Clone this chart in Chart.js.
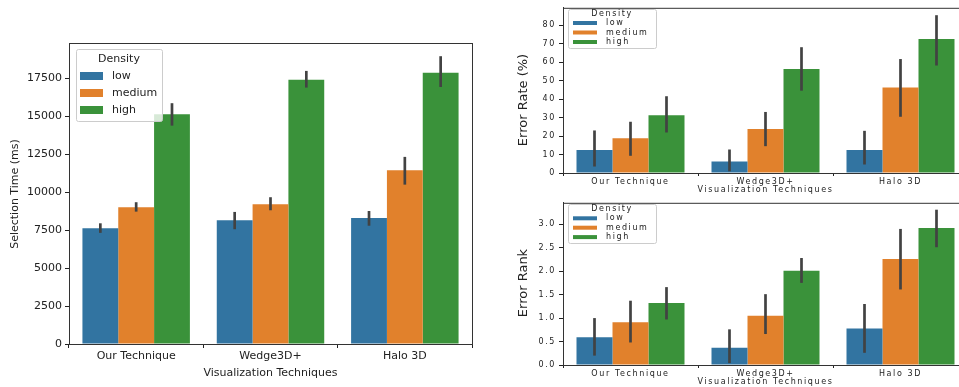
<!DOCTYPE html>
<html>
<head>
<meta charset="utf-8">
<script src="https://cdn.jsdelivr.net/npm/chart.js@4.4.0/dist/chart.umd.min.js"></script>
<style>
html, body { margin: 0; padding: 0; background: #fff; overflow: hidden; }
#wrap { position: relative; width: 959px; height: 387px; overflow: hidden; }
canvas { position: absolute; }
#timeChart { left: 0; top: 0; }
#rateChart { left: 500px; top: 0; }
#rankChart { left: 500px; top: 195px; }
</style>
</head>
<body>
<div id="wrap">
  <canvas id="timeChart" width="480" height="387"></canvas>
  <canvas id="rateChart" width="500" height="200"></canvas>
  <canvas id="rankChart" width="500" height="192"></canvas>
</div>
<script>
// categories and groups
const categories = ['Our Technique', 'Wedge3D+', 'Halo 3D'];
const densities = ['low', 'medium', 'high'];
const colors = ['#3274a1', '#e1812c', '#3a923a'];
const legendTitle = 'Density';
const xTitle = 'Visualization Techniques';

// Selection time (ms) - means and 95% CI
const timeLow = [7630, 8160, 8310];
const timeMedium = [9020, 9220, 11460];
const timeHigh = [15150, 17430, 17890];
const timeLowCI = [[7330, 7960], [7570, 8710], [7800, 8770]];
const timeMediumCI = [[8730, 9350], [8820, 9680], [10510, 12340]];
const timeHighCI = [[14400, 15880], [16910, 18010], [16950, 18980]];
const timeTicks = [0, 2500, 5000, 7500, 10000, 12500, 15000, 17500];

// Error rate (%)
const rateLow = [12.5, 6.25, 12.5];
const rateMedium = [18.75, 23.75, 46.25];
const rateHigh = [31.25, 56.25, 72.5];
const rateLowCI = [[3.5, 23], [0.9, 12.7], [4.6, 22.8]];
const rateMediumCI = [[9.3, 27.7], [14.5, 33], [30.4, 61.6]];
const rateHighCI = [[21.9, 41.5], [44.5, 68], [58.1, 85.3]];
const rateTicks = [0, 10, 20, 30, 40, 50, 60, 70, 80];

// Error rank
const rankLow = [0.59, 0.37, 0.78];
const rankMedium = [0.91, 1.05, 2.26];
const rankHigh = [1.32, 2.01, 2.92];
const rankLowCI = [[0.2, 1.0], [0.04, 0.76], [0.26, 1.3]];
const rankMediumCI = [[0.48, 1.37], [0.66, 1.51], [1.61, 2.9]];
const rankHighCI = [[0.97, 1.66], [1.75, 2.28], [2.51, 3.31]];
const rankTicks = [0, 0.5, 1.0, 1.5, 2.0, 2.5, 3.0];

const FONT = '"DejaVu Sans", sans-serif';

function barChart(id, opt) {
    const canvas = document.getElementById(id);
    const font = { family: FONT, size: opt.fs, lineHeight: 1.2 };

    // error bars, frame, y title and legend
    const decor = {
        id: 'decor',
        beforeLayout(chart) { chart.ctx.letterSpacing = opt.spacing; },
        beforeDraw(chart) { chart.ctx.letterSpacing = opt.spacing; },
        afterDatasetsDraw(chart) {
            const c = chart.ctx, a = chart.chartArea, y = chart.scales.y;
            c.save();
            c.strokeStyle = '#424242';
            c.lineWidth = opt.errW;
            chart.data.datasets.forEach((ds, i) => {
                chart.getDatasetMeta(i).data.forEach((bar, j) => {
                    const [lo, hi] = ds.ci[j];
                    c.beginPath();
                    c.moveTo(bar.x, y.getPixelForValue(lo));
                    c.lineTo(bar.x, y.getPixelForValue(hi));
                    c.stroke();
                });
            });
            c.strokeStyle = '#333';
            c.lineWidth = 1;
            c.strokeRect(a.left + 0.5, a.top + 0.5, a.right - a.left, a.bottom - a.top);
            c.restore();
        },
        afterDraw(chart) {
            const c = chart.ctx;
            c.save();
            c.letterSpacing = '0px';
            c.fillStyle = '#222';
            c.font = opt.yTitle.size + 'px ' + FONT;
            c.translate(opt.yTitle.x, opt.yTitle.y);
            c.rotate(-Math.PI / 2);
            c.textAlign = 'center';
            c.textBaseline = 'middle';
            c.fillText(opt.yTitle.text, 0, 0);
            c.restore();

            const L = opt.legend;
            c.save();
            c.letterSpacing = opt.spacing;
            c.fillStyle = 'rgba(255,255,255,0.8)';
            c.strokeStyle = '#cccccc';
            c.lineWidth = 1;
            c.beginPath();
            c.roundRect(L.x + 0.5, L.y + 0.5, L.w, L.h, 2);
            c.fill();
            c.stroke();
            c.fillStyle = '#222';
            c.font = L.fs + 'px ' + FONT;
            c.textBaseline = 'middle';
            c.textAlign = 'center';
            c.fillText(legendTitle, L.titleX, L.titleY);
            c.textAlign = 'left';
            chart.data.datasets.forEach((ds, i) => {
                const yy = L.rowY + i * L.rowGap;
                c.fillStyle = ds.backgroundColor;
                c.fillRect(L.swX, yy - L.swH / 2, L.swW, L.swH);
                c.fillStyle = '#222';
                c.fillText(ds.label, L.textX, yy);
            });
            c.restore();
        }
    };

    return new Chart(canvas.getContext('2d'), {
        type: 'bar',
        data: {
            labels: categories,
            datasets: opt.values.map((v, i) => ({
                label: densities[i],
                data: v,
                ci: opt.ci[i],
                backgroundColor: colors[i],
                borderWidth: 0,
                categoryPercentage: 0.8,
                barPercentage: 1.0
            }))
        },
        options: {
            responsive: false,
            animation: false,
            layout: {
                autoPadding: false,
                padding: { left: 0, top: opt.area.top, right: canvas.width - opt.area.right, bottom: 0 }
            },
            plugins: { legend: { display: false }, tooltip: { enabled: false } },
            scales: {
                x: {
                    grid: { drawOnChartArea: false, drawTicks: true, tickLength: opt.tickLen, color: '#222' },
                    border: { display: true, color: '#333', width: 1 },
                    ticks: { color: '#222', font: font, padding: opt.xPad, maxRotation: 0, autoSkip: false },
                    title: { display: true, text: xTitle, color: '#222', font: font, padding: { top: 0, bottom: opt.titlePad } },
                    afterFit: s => { s.height = canvas.height - opt.area.bottom; }
                },
                y: {
                    min: 0,
                    max: opt.yMax,
                    grid: { drawOnChartArea: false, drawTicks: true, tickLength: 4, color: '#222' },
                    border: { display: true, color: '#333', width: 1 },
                    ticks: { color: '#222', font: font, padding: opt.yPad, callback: opt.fmt },
                    afterBuildTicks: s => { s.ticks = opt.ticks.map(v => ({ value: v })); },
                    afterFit: s => { s.width = opt.area.left; }
                }
            }
        },
        plugins: [decor]
    });
}

barChart('timeChart', {
    values: [timeLow, timeMedium, timeHigh],
    ci: [timeLowCI, timeMediumCI, timeHighCI],
    ticks: timeTicks,
    yMax: 19850,
    fmt: v => String(v),
    fs: 11, spacing: '0px', tickLen: 4, xPad: 2, yPad: 3, titlePad: 7, errW: 2.7,
    area: { left: 69, top: 43, right: 472, bottom: 344 },
    yTitle: { text: 'Selection Time (ms)', x: 15, y: 194, size: 11 },
    legend: { x: 76, y: 49, w: 86, h: 72, titleX: 119, titleY: 59, rowY: 76, rowGap: 17,
              swX: 80, swW: 23, swH: 8, textX: 112, fs: 11 }
});

barChart('rateChart', {
    values: [rateLow, rateMedium, rateHigh],
    ci: [rateLowCI, rateMediumCI, rateHighCI],
    ticks: rateTicks,
    yMax: 89.3,
    fmt: v => String(v),
    fs: 8, spacing: '1.6px', tickLen: 3, xPad: 1, yPad: 3, titlePad: 5, errW: 2.7,
    area: { left: 63, top: 5, right: 468, bottom: 173 },
    yTitle: { text: 'Error Rate (%)', x: 24, y: 100, size: 13 },
    legend: { x: 68, y: 9, w: 88, h: 39, titleX: 112, titleY: 13.5, rowY: 23, rowGap: 9.5,
              swX: 73, swW: 24, swH: 4, textX: 106, fs: 8 }
});

barChart('rankChart', {
    values: [rankLow, rankMedium, rankHigh],
    ci: [rankLowCI, rankMediumCI, rankHighCI],
    ticks: rankTicks,
    yMax: 3.457,
    fmt: v => v.toFixed(1),
    fs: 8, spacing: '1.6px', tickLen: 3, xPad: 1, yPad: 3, titlePad: 0, errW: 2.7,
    area: { left: 63, top: 6, right: 468, bottom: 170 },
    yTitle: { text: 'Error Rank', x: 24, y: 88, size: 13 },
    legend: { x: 68, y: 9, w: 88, h: 39, titleX: 112, titleY: 14, rowY: 23.3, rowGap: 9.4,
              swX: 73, swW: 24, swH: 4, textX: 106, fs: 8 }
});
</script>
</body>
</html>
